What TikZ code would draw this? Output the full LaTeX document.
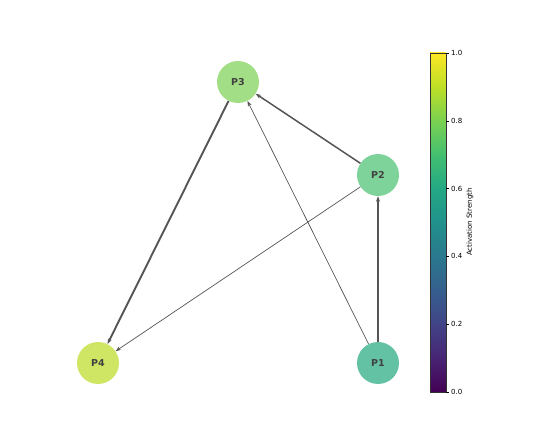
\documentclass[tikz,border=0pt]{standalone}
\usepackage{fontspec}
\setmainfont{DejaVu Sans}
\usetikzlibrary{arrows.meta}
\definecolor{v0}{HTML}{440154}
\definecolor{v1}{HTML}{482475}
\definecolor{v2}{HTML}{414487}
\definecolor{v3}{HTML}{355F8D}
\definecolor{v4}{HTML}{2A788E}
\definecolor{v5}{HTML}{21918C}
\definecolor{v6}{HTML}{22A884}
\definecolor{v7}{HTML}{44BF70}
\definecolor{v8}{HTML}{7AD151}
\definecolor{v9}{HTML}{BDDF26}
\definecolor{v10}{HTML}{FDE725}
\definecolor{cP1}{RGB}{100,194,164}
\definecolor{cP2}{RGB}{126,211,154}
\definecolor{cP3}{RGB}{162,222,133}
\definecolor{cP4}{RGB}{206,230,100}
\definecolor{edgec}{HTML}{555555}
\tikzset{
  pnode/.style={circle, minimum size=42pt, inner sep=0pt, font=\bfseries\fontsize{9.5}{11}\selectfont, text=black!75},
  edge/.style={draw=edgec, -{Stealth[length=5.5pt,width=4pt]}},
  ticklbl/.style={anchor=west, font=\fontsize{7}{8}\selectfont, inner sep=0pt},
}
\begin{document}
\begin{tikzpicture}[x=1pt,y=-1pt]
\useasboundingbox (0,0) rectangle (547,441);
% nodes
\node[pnode, fill=cP3] (P3) at (238,82) {P3};
\node[pnode, fill=cP2] (P2) at (378,175) {P2};
\node[pnode, fill=cP4] (P4) at (98,363) {P4};
\node[pnode, fill=cP1] (P1) at (378,363) {P1};
% edges
\draw[edge, line width=1.9pt] (P3) -- (P4);
\draw[edge, line width=1.5pt] (P2) -- (P3);
\draw[edge, line width=1.1pt] (P1) -- (P2);
\draw[edge, line width=0.7pt] (P2) -- (P4);
\draw[edge, line width=0.7pt] (P1) -- (P3);
% colorbar
\foreach \i [evaluate=\i as \j using int(\i+1)] in {0,...,9} {
  \shade[bottom color=v\i, top color=v\j] (430,{392-33.9*\i+0.3}) rectangle (446,{392-33.9*(\i+1)-0.3});
}
\draw[line width=0.4pt, black!80] (430,53) rectangle (446,392) coordinate (cbtr);
\foreach \v/\y in {0.0/392,0.2/324.2,0.4/256.4,0.6/188.6,0.8/120.8,1.0/53} {
  \draw[line width=0.4pt] (446,\y) -- (449,\y);
  \node[ticklbl] at (451,\y) {\v};
}
\node[rotate=90, font=\fontsize{7}{8}\selectfont, inner sep=0pt] (cblabel) at (470,222) {Activation Strength};
\end{tikzpicture}
\end{document}
